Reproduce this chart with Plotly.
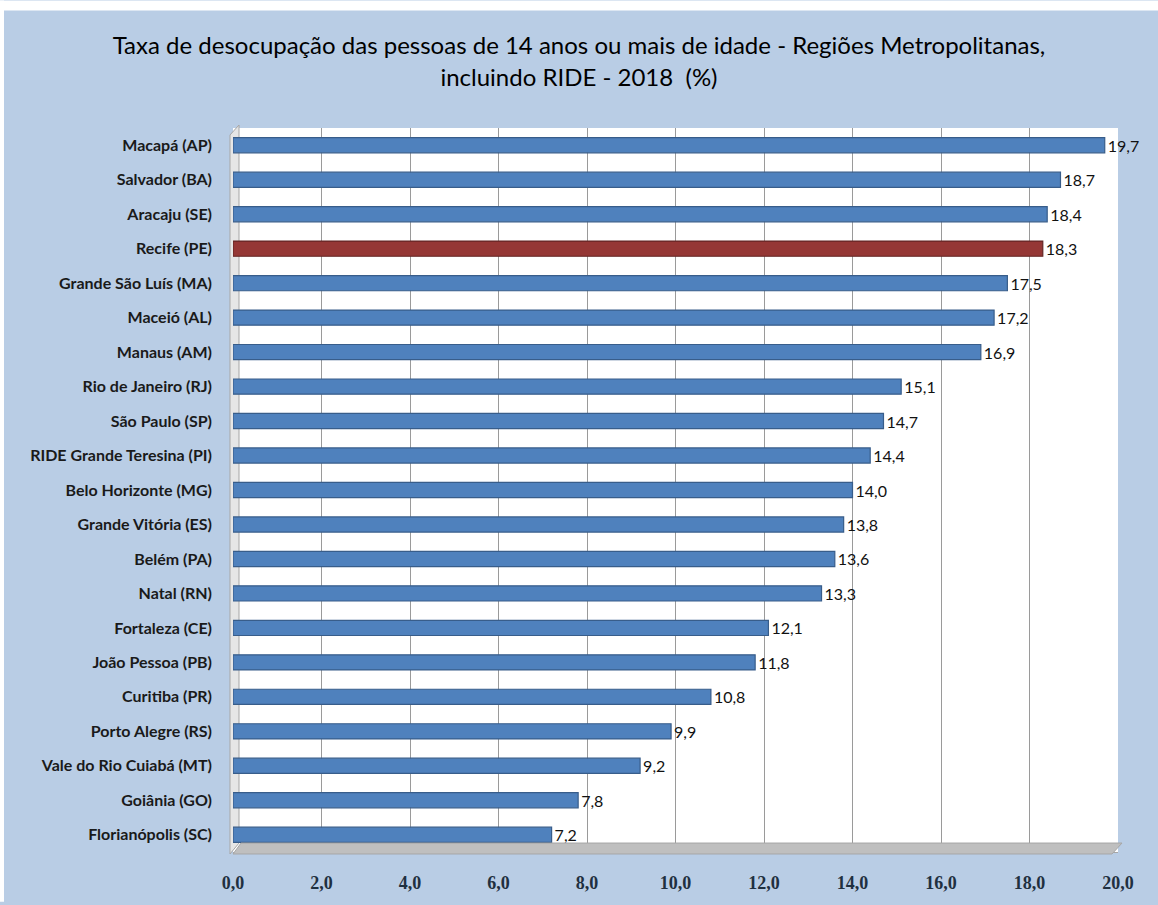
import plotly.graph_objects as go

regions = [
    "Macapá (AP)", "Salvador (BA)", "Aracaju (SE)", "Recife (PE)",
    "Grande São Luís (MA)", "Maceió (AL)", "Manaus (AM)", "Rio de Janeiro (RJ)",
    "São Paulo (SP)", "RIDE Grande Teresina (PI)", "Belo Horizonte (MG)",
    "Grande Vitória (ES)", "Belém (PA)", "Natal (RN)", "Fortaleza (CE)",
    "João Pessoa (PB)", "Curitiba (PR)", "Porto Alegre (RS)",
    "Vale do Rio Cuiabá (MT)", "Goiânia (GO)", "Florianópolis (SC)",
]
rates = [19.7, 18.7, 18.4, 18.3, 17.5, 17.2, 16.9, 15.1, 14.7, 14.4, 14.0,
         13.8, 13.6, 13.3, 12.1, 11.8, 10.8, 9.9, 9.2, 7.8, 7.2]
highlight = "Recife (PE)"
x_ticks = [0, 2, 4, 6, 8, 10, 12, 14, 16, 18, 20]

BLUE = "#4F81BD"
RED = "#953735"
BG = "#B9CDE5"

colors = [RED if r == highlight else BLUE for r in regions]
edges = ["#632523" if r == highlight else "#385D8A" for r in regions]
labels = [f"{v:.1f}".replace(".", ",") for v in rates]

W, H = 1158, 905
ml, mr, mt, mb = 233, 40, 128, 50
pw, ph = W - ml - mr, H - mt - mb

def px_x(p):
    return (p - ml) / pw

def px_y(p):
    return (H - mb - p) / ph

fig = go.Figure()
fig.add_trace(go.Bar(
    y=regions, x=rates, orientation="h",
    marker=dict(color=colors, line=dict(color=edges, width=1.2)),
    width=0.44,
    text=labels, textposition="outside", cliponaxis=False,
    constraintext="none",
    textfont=dict(family="Lato, sans-serif", size=16, color="#111111"),
    hoverinfo="x+y",
))

shapes = [
    # white strip around top/left like reference border
    dict(type="rect", xref="paper", yref="paper",
         x0=px_x(0), x1=px_x(W), y0=px_y(10), y1=px_y(0),
         fillcolor="white", line=dict(width=0), layer="above"),
    dict(type="rect", xref="paper", yref="paper",
         x0=px_x(0), x1=px_x(4), y0=px_y(H), y1=px_y(0),
         fillcolor="white", line=dict(width=0), layer="above"),
    # gray floor
    dict(type="path", xref="paper", yref="paper",
         path=f"M {px_x(233)} {px_y(857)} L {px_x(1112)} {px_y(857)} L {px_x(1122)} {px_y(846)} L {px_x(241)} {px_y(846)} Z",
         fillcolor="#BFBFBF", line=dict(color="#A6A6A6", width=1), layer="above"),
    # left wall
    dict(type="path", xref="paper", yref="paper",
         path=f"M {px_x(230)} {px_y(857)} L {px_x(230)} {px_y(135)} L {px_x(239)} {px_y(125)} L {px_x(239)} {px_y(846)} Z",
         fillcolor="#E6E6E6", line=dict(color="#A6A6A6", width=1), layer="below"),
]

fig.update_layout(
    width=W, height=H,
    margin=dict(l=ml, r=mr, t=mt, b=mb),
    paper_bgcolor=BG, plot_bgcolor="white",
    separators=",.",
    showlegend=False,
    bargap=0.5,
    shapes=shapes,
    title=dict(
        text="Taxa de desocupação das pessoas de 14 anos ou mais de idade - Regiões Metropolitanas,<br>incluindo RIDE - 2018  (%)",
        x=0.5, xref="container", xanchor="center", y=0.94, yanchor="top",
        font=dict(family="Lato, sans-serif", size=24, color="#000000"),
    ),
    xaxis=dict(
        range=[0, 20], tickvals=x_ticks, tickformat=".1f",
        showgrid=True, gridcolor="#9A9A9A", gridwidth=1,
        zeroline=False, showline=True, linecolor="#A6A6A6",
        ticks="", ticklabelstandoff=14,
        tickfont=dict(family="Liberation Serif, DejaVu Serif, serif", size=18,
                      color="#1F3040", weight="bold"),
    ),
    yaxis=dict(
        autorange="reversed", showgrid=False, zeroline=False, showline=False,
        ticks="", ticklabelstandoff=20,
        tickfont=dict(family="Lato, sans-serif", size=16, color="#1a1a1a", weight="bold"),
    ),
)

fig.write_html("out.html")
